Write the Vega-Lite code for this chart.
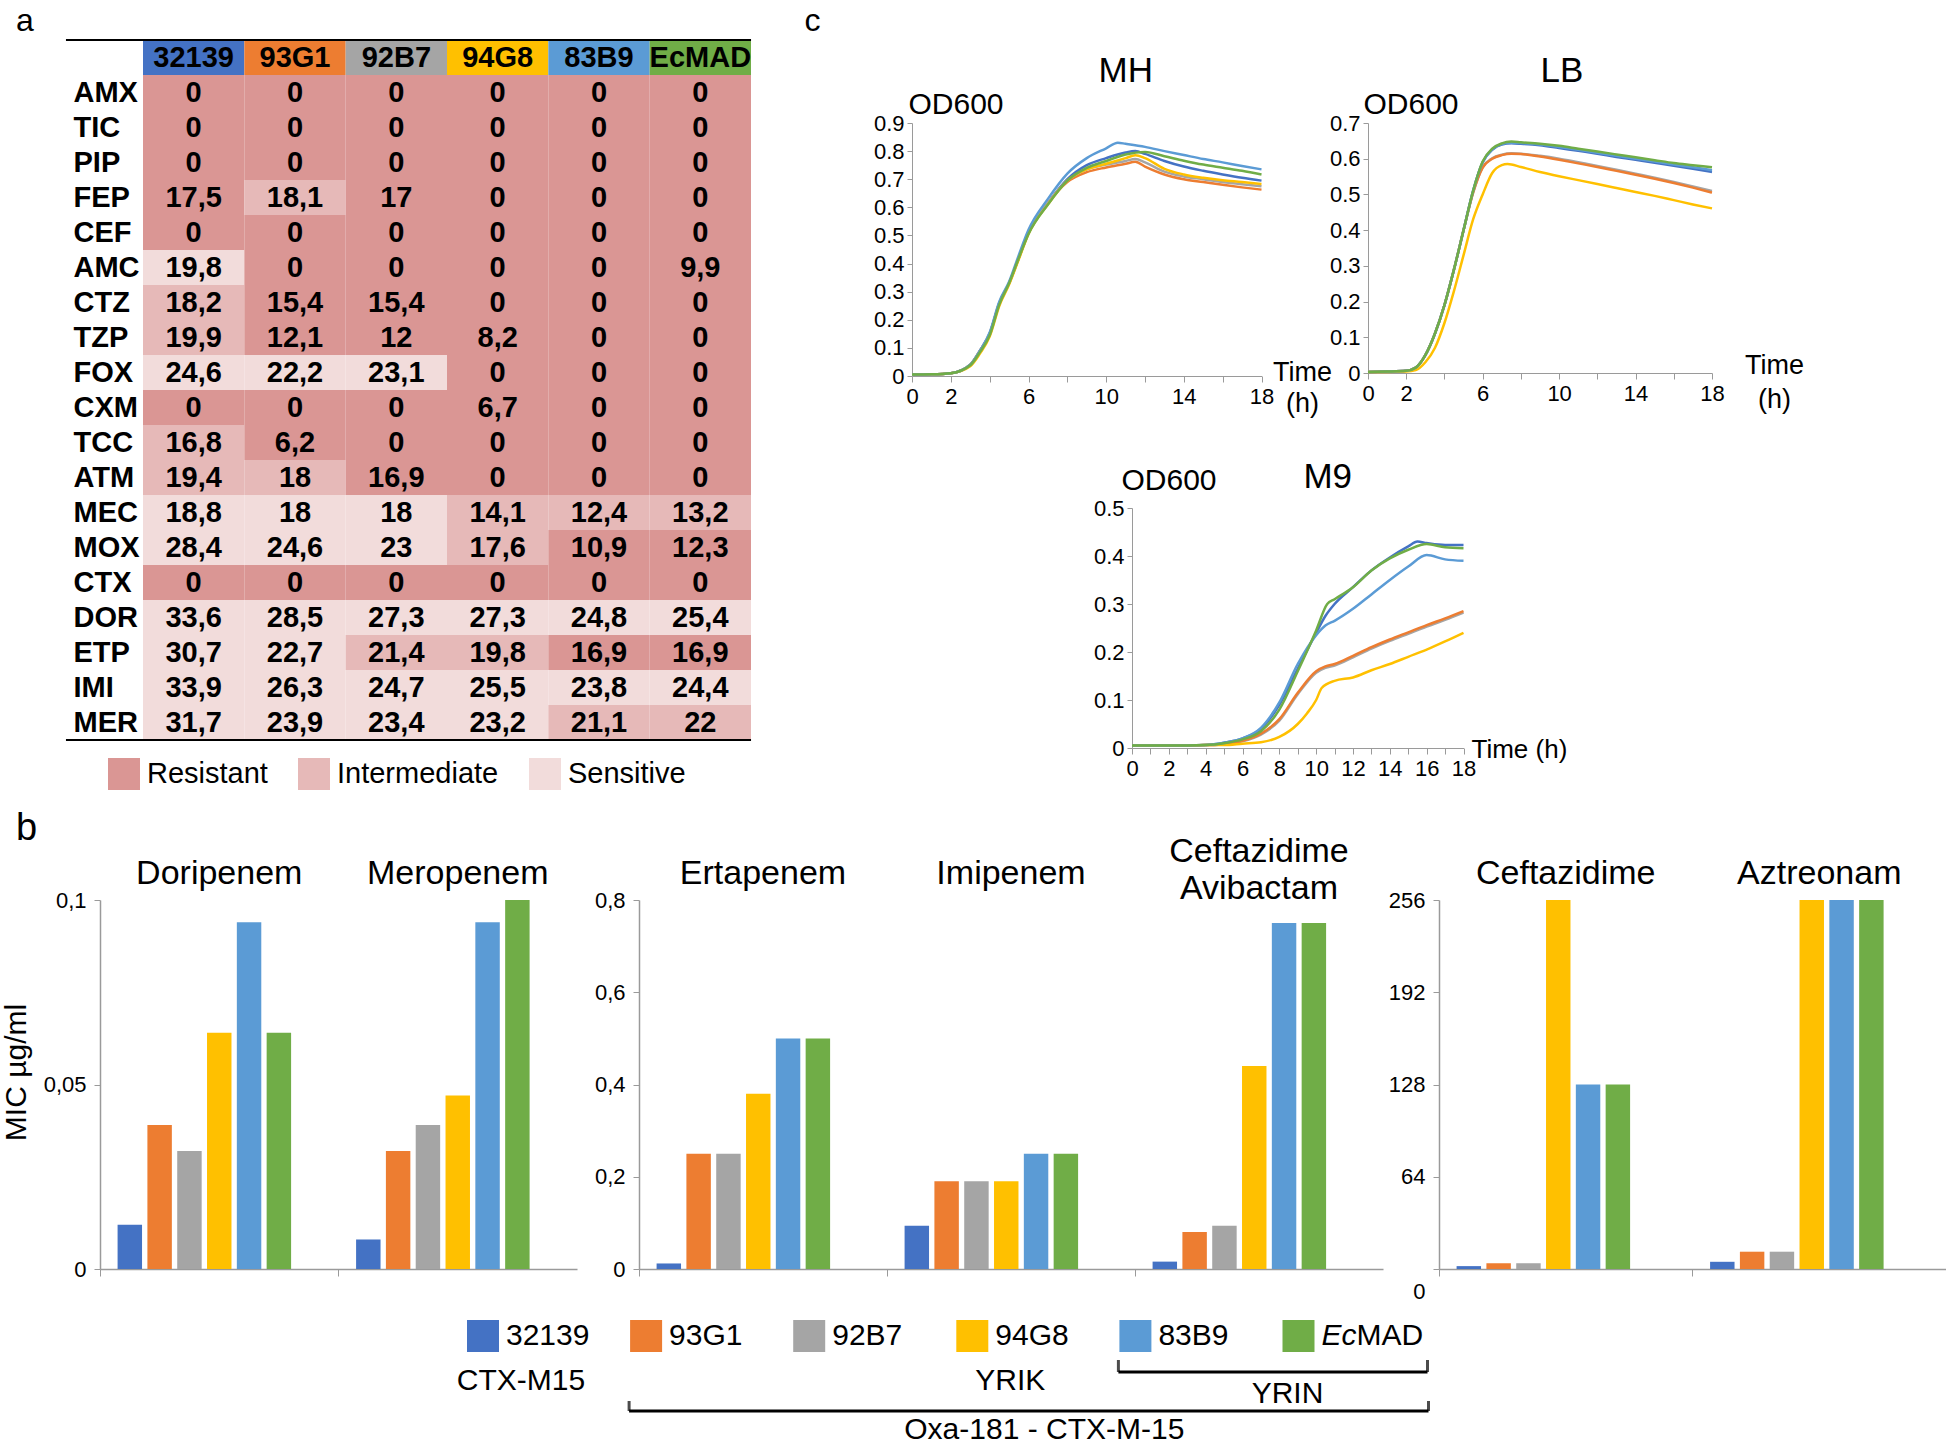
{
"$schema": "https://vega.github.io/schema/vega-lite/v6.json",
"padding": {"left": 0, "top": 0, "right": 0, "bottom": 0},
"background": "white",
"config": {"font": "Liberation Sans", "view": {"stroke": null},
 "axis": {"labelColor": "black", "titleColor": "black", "grid": false, "domainColor": "#9a9a9a", "tickColor": "#9a9a9a", "labelFont": "Liberation Sans", "titleFont": "Liberation Sans", "titleFontWeight": "normal"},
 "title": {"color": "black", "fontWeight": "normal", "font": "Liberation Sans"}},
"datasets": {
 "strainList": [{"s":"32139"},{"s":"93G1"},{"s":"92B7"},{"s":"94G8"},{"s":"83B9"},{"s":"EcMAD"}],
 "header": [{"d":"hdr","s":"32139"},{"d":"hdr","s":"93G1"},{"d":"hdr","s":"92B7"},{"d":"hdr","s":"94G8"},{"d":"hdr","s":"83B9"},{"d":"hdr","s":"EcMAD"}],
 "cells": [
 {"d":"AMX","s":"32139","v":"0","c":"R"},{"d":"AMX","s":"93G1","v":"0","c":"R"},{"d":"AMX","s":"92B7","v":"0","c":"R"},{"d":"AMX","s":"94G8","v":"0","c":"R"},{"d":"AMX","s":"83B9","v":"0","c":"R"},{"d":"AMX","s":"EcMAD","v":"0","c":"R"},
 {"d":"TIC","s":"32139","v":"0","c":"R"},{"d":"TIC","s":"93G1","v":"0","c":"R"},{"d":"TIC","s":"92B7","v":"0","c":"R"},{"d":"TIC","s":"94G8","v":"0","c":"R"},{"d":"TIC","s":"83B9","v":"0","c":"R"},{"d":"TIC","s":"EcMAD","v":"0","c":"R"},
 {"d":"PIP","s":"32139","v":"0","c":"R"},{"d":"PIP","s":"93G1","v":"0","c":"R"},{"d":"PIP","s":"92B7","v":"0","c":"R"},{"d":"PIP","s":"94G8","v":"0","c":"R"},{"d":"PIP","s":"83B9","v":"0","c":"R"},{"d":"PIP","s":"EcMAD","v":"0","c":"R"},
 {"d":"FEP","s":"32139","v":"17,5","c":"R"},{"d":"FEP","s":"93G1","v":"18,1","c":"I"},{"d":"FEP","s":"92B7","v":"17","c":"R"},{"d":"FEP","s":"94G8","v":"0","c":"R"},{"d":"FEP","s":"83B9","v":"0","c":"R"},{"d":"FEP","s":"EcMAD","v":"0","c":"R"},
 {"d":"CEF","s":"32139","v":"0","c":"R"},{"d":"CEF","s":"93G1","v":"0","c":"R"},{"d":"CEF","s":"92B7","v":"0","c":"R"},{"d":"CEF","s":"94G8","v":"0","c":"R"},{"d":"CEF","s":"83B9","v":"0","c":"R"},{"d":"CEF","s":"EcMAD","v":"0","c":"R"},
 {"d":"AMC","s":"32139","v":"19,8","c":"S"},{"d":"AMC","s":"93G1","v":"0","c":"R"},{"d":"AMC","s":"92B7","v":"0","c":"R"},{"d":"AMC","s":"94G8","v":"0","c":"R"},{"d":"AMC","s":"83B9","v":"0","c":"R"},{"d":"AMC","s":"EcMAD","v":"9,9","c":"R"},
 {"d":"CTZ","s":"32139","v":"18,2","c":"I"},{"d":"CTZ","s":"93G1","v":"15,4","c":"R"},{"d":"CTZ","s":"92B7","v":"15,4","c":"R"},{"d":"CTZ","s":"94G8","v":"0","c":"R"},{"d":"CTZ","s":"83B9","v":"0","c":"R"},{"d":"CTZ","s":"EcMAD","v":"0","c":"R"},
 {"d":"TZP","s":"32139","v":"19,9","c":"I"},{"d":"TZP","s":"93G1","v":"12,1","c":"R"},{"d":"TZP","s":"92B7","v":"12","c":"R"},{"d":"TZP","s":"94G8","v":"8,2","c":"R"},{"d":"TZP","s":"83B9","v":"0","c":"R"},{"d":"TZP","s":"EcMAD","v":"0","c":"R"},
 {"d":"FOX","s":"32139","v":"24,6","c":"S"},{"d":"FOX","s":"93G1","v":"22,2","c":"S"},{"d":"FOX","s":"92B7","v":"23,1","c":"S"},{"d":"FOX","s":"94G8","v":"0","c":"R"},{"d":"FOX","s":"83B9","v":"0","c":"R"},{"d":"FOX","s":"EcMAD","v":"0","c":"R"},
 {"d":"CXM","s":"32139","v":"0","c":"R"},{"d":"CXM","s":"93G1","v":"0","c":"R"},{"d":"CXM","s":"92B7","v":"0","c":"R"},{"d":"CXM","s":"94G8","v":"6,7","c":"R"},{"d":"CXM","s":"83B9","v":"0","c":"R"},{"d":"CXM","s":"EcMAD","v":"0","c":"R"},
 {"d":"TCC","s":"32139","v":"16,8","c":"I"},{"d":"TCC","s":"93G1","v":"6,2","c":"R"},{"d":"TCC","s":"92B7","v":"0","c":"R"},{"d":"TCC","s":"94G8","v":"0","c":"R"},{"d":"TCC","s":"83B9","v":"0","c":"R"},{"d":"TCC","s":"EcMAD","v":"0","c":"R"},
 {"d":"ATM","s":"32139","v":"19,4","c":"I"},{"d":"ATM","s":"93G1","v":"18","c":"I"},{"d":"ATM","s":"92B7","v":"16,9","c":"R"},{"d":"ATM","s":"94G8","v":"0","c":"R"},{"d":"ATM","s":"83B9","v":"0","c":"R"},{"d":"ATM","s":"EcMAD","v":"0","c":"R"},
 {"d":"MEC","s":"32139","v":"18,8","c":"S"},{"d":"MEC","s":"93G1","v":"18","c":"S"},{"d":"MEC","s":"92B7","v":"18","c":"S"},{"d":"MEC","s":"94G8","v":"14,1","c":"I"},{"d":"MEC","s":"83B9","v":"12,4","c":"I"},{"d":"MEC","s":"EcMAD","v":"13,2","c":"I"},
 {"d":"MOX","s":"32139","v":"28,4","c":"S"},{"d":"MOX","s":"93G1","v":"24,6","c":"S"},{"d":"MOX","s":"92B7","v":"23","c":"S"},{"d":"MOX","s":"94G8","v":"17,6","c":"I"},{"d":"MOX","s":"83B9","v":"10,9","c":"R"},{"d":"MOX","s":"EcMAD","v":"12,3","c":"R"},
 {"d":"CTX","s":"32139","v":"0","c":"R"},{"d":"CTX","s":"93G1","v":"0","c":"R"},{"d":"CTX","s":"92B7","v":"0","c":"R"},{"d":"CTX","s":"94G8","v":"0","c":"R"},{"d":"CTX","s":"83B9","v":"0","c":"R"},{"d":"CTX","s":"EcMAD","v":"0","c":"R"},
 {"d":"DOR","s":"32139","v":"33,6","c":"S"},{"d":"DOR","s":"93G1","v":"28,5","c":"S"},{"d":"DOR","s":"92B7","v":"27,3","c":"S"},{"d":"DOR","s":"94G8","v":"27,3","c":"S"},{"d":"DOR","s":"83B9","v":"24,8","c":"S"},{"d":"DOR","s":"EcMAD","v":"25,4","c":"S"},
 {"d":"ETP","s":"32139","v":"30,7","c":"S"},{"d":"ETP","s":"93G1","v":"22,7","c":"S"},{"d":"ETP","s":"92B7","v":"21,4","c":"I"},{"d":"ETP","s":"94G8","v":"19,8","c":"I"},{"d":"ETP","s":"83B9","v":"16,9","c":"R"},{"d":"ETP","s":"EcMAD","v":"16,9","c":"R"},
 {"d":"IMI","s":"32139","v":"33,9","c":"S"},{"d":"IMI","s":"93G1","v":"26,3","c":"S"},{"d":"IMI","s":"92B7","v":"24,7","c":"S"},{"d":"IMI","s":"94G8","v":"25,5","c":"S"},{"d":"IMI","s":"83B9","v":"23,8","c":"S"},{"d":"IMI","s":"EcMAD","v":"24,4","c":"S"},
 {"d":"MER","s":"32139","v":"31,7","c":"S"},{"d":"MER","s":"93G1","v":"23,9","c":"S"},{"d":"MER","s":"92B7","v":"23,4","c":"S"},{"d":"MER","s":"94G8","v":"23,2","c":"S"},{"d":"MER","s":"83B9","v":"21,1","c":"I"},{"d":"MER","s":"EcMAD","v":"22","c":"I"}
 ],
 "mic": [
 {"g":1,"drug":"Doripenem","s":"32139","mic":0.012},{"g":1,"drug":"Doripenem","s":"93G1","mic":0.039},{"g":1,"drug":"Doripenem","s":"92B7","mic":0.032},{"g":1,"drug":"Doripenem","s":"94G8","mic":0.064},{"g":1,"drug":"Doripenem","s":"83B9","mic":0.094},{"g":1,"drug":"Doripenem","s":"EcMAD","mic":0.064},
 {"g":1,"drug":"Meropenem","s":"32139","mic":0.008},{"g":1,"drug":"Meropenem","s":"93G1","mic":0.032},{"g":1,"drug":"Meropenem","s":"92B7","mic":0.039},{"g":1,"drug":"Meropenem","s":"94G8","mic":0.047},{"g":1,"drug":"Meropenem","s":"83B9","mic":0.094},{"g":1,"drug":"Meropenem","s":"EcMAD","mic":0.1},
 {"g":2,"drug":"Ertapenem","s":"32139","mic":0.012},{"g":2,"drug":"Ertapenem","s":"93G1","mic":0.25},{"g":2,"drug":"Ertapenem","s":"92B7","mic":0.25},{"g":2,"drug":"Ertapenem","s":"94G8","mic":0.38},{"g":2,"drug":"Ertapenem","s":"83B9","mic":0.5},{"g":2,"drug":"Ertapenem","s":"EcMAD","mic":0.5},
 {"g":2,"drug":"Imipenem","s":"32139","mic":0.094},{"g":2,"drug":"Imipenem","s":"93G1","mic":0.19},{"g":2,"drug":"Imipenem","s":"92B7","mic":0.19},{"g":2,"drug":"Imipenem","s":"94G8","mic":0.19},{"g":2,"drug":"Imipenem","s":"83B9","mic":0.25},{"g":2,"drug":"Imipenem","s":"EcMAD","mic":0.25},
 {"g":2,"drug":"Ceftazidime Avibactam","s":"32139","mic":0.016},{"g":2,"drug":"Ceftazidime Avibactam","s":"93G1","mic":0.08},{"g":2,"drug":"Ceftazidime Avibactam","s":"92B7","mic":0.094},{"g":2,"drug":"Ceftazidime Avibactam","s":"94G8","mic":0.44},{"g":2,"drug":"Ceftazidime Avibactam","s":"83B9","mic":0.75},{"g":2,"drug":"Ceftazidime Avibactam","s":"EcMAD","mic":0.75},
 {"g":3,"drug":"Ceftazidime","s":"32139","mic":2},{"g":3,"drug":"Ceftazidime","s":"93G1","mic":4},{"g":3,"drug":"Ceftazidime","s":"92B7","mic":4},{"g":3,"drug":"Ceftazidime","s":"94G8","mic":256},{"g":3,"drug":"Ceftazidime","s":"83B9","mic":128},{"g":3,"drug":"Ceftazidime","s":"EcMAD","mic":128},
 {"g":3,"drug":"Aztreonam","s":"32139","mic":5},{"g":3,"drug":"Aztreonam","s":"93G1","mic":12},{"g":3,"drug":"Aztreonam","s":"92B7","mic":12},{"g":3,"drug":"Aztreonam","s":"94G8","mic":256},{"g":3,"drug":"Aztreonam","s":"83B9","mic":256},{"g":3,"drug":"Aztreonam","s":"EcMAD","mic":256}
 ],
 "growth": [
 {"m":"MH","s":"32139","t":0,"od":0.005},{"m":"MH","s":"32139","t":1,"od":0.006},{"m":"MH","s":"32139","t":2,"od":0.01},{"m":"MH","s":"32139","t":3,"od":0.04},{"m":"MH","s":"32139","t":3.5,"od":0.09},{"m":"MH","s":"32139","t":4,"od":0.15},{"m":"MH","s":"32139","t":4.5,"od":0.26},{"m":"MH","s":"32139","t":5,"od":0.33},{"m":"MH","s":"32139","t":5.5,"od":0.42},{"m":"MH","s":"32139","t":6,"od":0.51},{"m":"MH","s":"32139","t":7,"od":0.615},{"m":"MH","s":"32139","t":8,"od":0.7},{"m":"MH","s":"32139","t":9,"od":0.75},{"m":"MH","s":"32139","t":10,"od":0.775},{"m":"MH","s":"32139","t":11,"od":0.795},{"m":"MH","s":"32139","t":11.5,"od":0.8},{"m":"MH","s":"32139","t":12,"od":0.79},{"m":"MH","s":"32139","t":13,"od":0.765},{"m":"MH","s":"32139","t":14,"od":0.745},{"m":"MH","s":"32139","t":15,"od":0.73},{"m":"MH","s":"32139","t":16,"od":0.717},{"m":"MH","s":"32139","t":17,"od":0.705},{"m":"MH","s":"32139","t":18,"od":0.695},
 {"m":"MH","s":"93G1","t":0,"od":0.005},{"m":"MH","s":"93G1","t":1,"od":0.006},{"m":"MH","s":"93G1","t":2,"od":0.01},{"m":"MH","s":"93G1","t":3,"od":0.04},{"m":"MH","s":"93G1","t":3.5,"od":0.09},{"m":"MH","s":"93G1","t":4,"od":0.15},{"m":"MH","s":"93G1","t":4.5,"od":0.26},{"m":"MH","s":"93G1","t":5,"od":0.33},{"m":"MH","s":"93G1","t":5.5,"od":0.42},{"m":"MH","s":"93G1","t":6,"od":0.51},{"m":"MH","s":"93G1","t":7,"od":0.615},{"m":"MH","s":"93G1","t":8,"od":0.69},{"m":"MH","s":"93G1","t":9,"od":0.725},{"m":"MH","s":"93G1","t":10,"od":0.742},{"m":"MH","s":"93G1","t":11,"od":0.755},{"m":"MH","s":"93G1","t":11.5,"od":0.762},{"m":"MH","s":"93G1","t":12,"od":0.745},{"m":"MH","s":"93G1","t":13,"od":0.717},{"m":"MH","s":"93G1","t":14,"od":0.7},{"m":"MH","s":"93G1","t":15,"od":0.69},{"m":"MH","s":"93G1","t":16,"od":0.68},{"m":"MH","s":"93G1","t":17,"od":0.671},{"m":"MH","s":"93G1","t":18,"od":0.663},
 {"m":"MH","s":"92B7","t":0,"od":0.005},{"m":"MH","s":"92B7","t":1,"od":0.006},{"m":"MH","s":"92B7","t":2,"od":0.01},{"m":"MH","s":"92B7","t":3,"od":0.04},{"m":"MH","s":"92B7","t":3.5,"od":0.09},{"m":"MH","s":"92B7","t":4,"od":0.15},{"m":"MH","s":"92B7","t":4.5,"od":0.26},{"m":"MH","s":"92B7","t":5,"od":0.33},{"m":"MH","s":"92B7","t":5.5,"od":0.42},{"m":"MH","s":"92B7","t":6,"od":0.51},{"m":"MH","s":"92B7","t":7,"od":0.615},{"m":"MH","s":"92B7","t":8,"od":0.695},{"m":"MH","s":"92B7","t":9,"od":0.735},{"m":"MH","s":"92B7","t":10,"od":0.752},{"m":"MH","s":"92B7","t":11,"od":0.765},{"m":"MH","s":"92B7","t":11.5,"od":0.772},{"m":"MH","s":"92B7","t":12,"od":0.76},{"m":"MH","s":"92B7","t":13,"od":0.727},{"m":"MH","s":"92B7","t":14,"od":0.71},{"m":"MH","s":"92B7","t":15,"od":0.7},{"m":"MH","s":"92B7","t":16,"od":0.69},{"m":"MH","s":"92B7","t":17,"od":0.682},{"m":"MH","s":"92B7","t":18,"od":0.675},
 {"m":"MH","s":"94G8","t":0,"od":0.005},{"m":"MH","s":"94G8","t":1,"od":0.006},{"m":"MH","s":"94G8","t":2,"od":0.01},{"m":"MH","s":"94G8","t":3,"od":0.035},{"m":"MH","s":"94G8","t":3.5,"od":0.08},{"m":"MH","s":"94G8","t":4,"od":0.14},{"m":"MH","s":"94G8","t":4.5,"od":0.25},{"m":"MH","s":"94G8","t":5,"od":0.325},{"m":"MH","s":"94G8","t":5.5,"od":0.415},{"m":"MH","s":"94G8","t":6,"od":0.505},{"m":"MH","s":"94G8","t":7,"od":0.61},{"m":"MH","s":"94G8","t":8,"od":0.695},{"m":"MH","s":"94G8","t":9,"od":0.735},{"m":"MH","s":"94G8","t":10,"od":0.755},{"m":"MH","s":"94G8","t":11,"od":0.775},{"m":"MH","s":"94G8","t":11.5,"od":0.785},{"m":"MH","s":"94G8","t":12,"od":0.775},{"m":"MH","s":"94G8","t":13,"od":0.737},{"m":"MH","s":"94G8","t":14,"od":0.717},{"m":"MH","s":"94G8","t":15,"od":0.705},{"m":"MH","s":"94G8","t":16,"od":0.696},{"m":"MH","s":"94G8","t":17,"od":0.69},{"m":"MH","s":"94G8","t":18,"od":0.683},
 {"m":"MH","s":"83B9","t":0,"od":0.005},{"m":"MH","s":"83B9","t":1,"od":0.006},{"m":"MH","s":"83B9","t":2,"od":0.01},{"m":"MH","s":"83B9","t":3,"od":0.04},{"m":"MH","s":"83B9","t":3.5,"od":0.09},{"m":"MH","s":"83B9","t":4,"od":0.155},{"m":"MH","s":"83B9","t":4.5,"od":0.265},{"m":"MH","s":"83B9","t":5,"od":0.335},{"m":"MH","s":"83B9","t":5.5,"od":0.43},{"m":"MH","s":"83B9","t":6,"od":0.52},{"m":"MH","s":"83B9","t":7,"od":0.63},{"m":"MH","s":"83B9","t":8,"od":0.72},{"m":"MH","s":"83B9","t":9,"od":0.775},{"m":"MH","s":"83B9","t":10,"od":0.81},{"m":"MH","s":"83B9","t":10.6,"od":0.83},{"m":"MH","s":"83B9","t":11,"od":0.826},{"m":"MH","s":"83B9","t":12,"od":0.815},{"m":"MH","s":"83B9","t":13,"od":0.8},{"m":"MH","s":"83B9","t":14,"od":0.786},{"m":"MH","s":"83B9","t":15,"od":0.772},{"m":"MH","s":"83B9","t":16,"od":0.76},{"m":"MH","s":"83B9","t":17,"od":0.747},{"m":"MH","s":"83B9","t":18,"od":0.735},
 {"m":"MH","s":"EcMAD","t":0,"od":0.005},{"m":"MH","s":"EcMAD","t":1,"od":0.006},{"m":"MH","s":"EcMAD","t":2,"od":0.01},{"m":"MH","s":"EcMAD","t":3,"od":0.038},{"m":"MH","s":"EcMAD","t":3.5,"od":0.085},{"m":"MH","s":"EcMAD","t":4,"od":0.145},{"m":"MH","s":"EcMAD","t":4.5,"od":0.255},{"m":"MH","s":"EcMAD","t":5,"od":0.33},{"m":"MH","s":"EcMAD","t":5.5,"od":0.42},{"m":"MH","s":"EcMAD","t":6,"od":0.505},{"m":"MH","s":"EcMAD","t":7,"od":0.61},{"m":"MH","s":"EcMAD","t":8,"od":0.695},{"m":"MH","s":"EcMAD","t":9,"od":0.74},{"m":"MH","s":"EcMAD","t":10,"od":0.765},{"m":"MH","s":"EcMAD","t":11,"od":0.788},{"m":"MH","s":"EcMAD","t":12,"od":0.797},{"m":"MH","s":"EcMAD","t":13,"od":0.782},{"m":"MH","s":"EcMAD","t":14,"od":0.766},{"m":"MH","s":"EcMAD","t":15,"od":0.752},{"m":"MH","s":"EcMAD","t":16,"od":0.741},{"m":"MH","s":"EcMAD","t":17,"od":0.73},{"m":"MH","s":"EcMAD","t":18,"od":0.717},
 {"m":"LB","s":"32139","t":0,"od":0.003},{"m":"LB","s":"32139","t":1,"od":0.004},{"m":"LB","s":"32139","t":2,"od":0.006},{"m":"LB","s":"32139","t":2.5,"od":0.015},{"m":"LB","s":"32139","t":3,"od":0.05},{"m":"LB","s":"32139","t":3.5,"od":0.11},{"m":"LB","s":"32139","t":4,"od":0.19},{"m":"LB","s":"32139","t":4.5,"od":0.29},{"m":"LB","s":"32139","t":5,"od":0.4},{"m":"LB","s":"32139","t":5.5,"od":0.51},{"m":"LB","s":"32139","t":6,"od":0.59},{"m":"LB","s":"32139","t":6.5,"od":0.625},{"m":"LB","s":"32139","t":7,"od":0.64},{"m":"LB","s":"32139","t":7.5,"od":0.643},{"m":"LB","s":"32139","t":8,"od":0.642},{"m":"LB","s":"32139","t":9,"od":0.638},{"m":"LB","s":"32139","t":10,"od":0.63},{"m":"LB","s":"32139","t":11,"od":0.622},{"m":"LB","s":"32139","t":12,"od":0.614},{"m":"LB","s":"32139","t":13,"od":0.605},{"m":"LB","s":"32139","t":14,"od":0.597},{"m":"LB","s":"32139","t":15,"od":0.589},{"m":"LB","s":"32139","t":16,"od":0.58},{"m":"LB","s":"32139","t":17,"od":0.572},{"m":"LB","s":"32139","t":18,"od":0.563},
 {"m":"LB","s":"92B7","t":0,"od":0.003},{"m":"LB","s":"92B7","t":1,"od":0.004},{"m":"LB","s":"92B7","t":2,"od":0.006},{"m":"LB","s":"92B7","t":2.5,"od":0.015},{"m":"LB","s":"92B7","t":3,"od":0.05},{"m":"LB","s":"92B7","t":3.5,"od":0.11},{"m":"LB","s":"92B7","t":4,"od":0.19},{"m":"LB","s":"92B7","t":4.5,"od":0.29},{"m":"LB","s":"92B7","t":5,"od":0.4},{"m":"LB","s":"92B7","t":5.5,"od":0.505},{"m":"LB","s":"92B7","t":6,"od":0.576},{"m":"LB","s":"92B7","t":6.5,"od":0.601},{"m":"LB","s":"92B7","t":7,"od":0.611},{"m":"LB","s":"92B7","t":7.5,"od":0.615},{"m":"LB","s":"92B7","t":8,"od":0.614},{"m":"LB","s":"92B7","t":9,"od":0.608},{"m":"LB","s":"92B7","t":10,"od":0.6},{"m":"LB","s":"92B7","t":11,"od":0.59},{"m":"LB","s":"92B7","t":12,"od":0.58},{"m":"LB","s":"92B7","t":13,"od":0.569},{"m":"LB","s":"92B7","t":14,"od":0.558},{"m":"LB","s":"92B7","t":15,"od":0.547},{"m":"LB","s":"92B7","t":16,"od":0.535},{"m":"LB","s":"92B7","t":17,"od":0.522},{"m":"LB","s":"92B7","t":18,"od":0.51},
 {"m":"LB","s":"93G1","t":0,"od":0.003},{"m":"LB","s":"93G1","t":1,"od":0.004},{"m":"LB","s":"93G1","t":2,"od":0.006},{"m":"LB","s":"93G1","t":2.5,"od":0.015},{"m":"LB","s":"93G1","t":3,"od":0.05},{"m":"LB","s":"93G1","t":3.5,"od":0.11},{"m":"LB","s":"93G1","t":4,"od":0.19},{"m":"LB","s":"93G1","t":4.5,"od":0.29},{"m":"LB","s":"93G1","t":5,"od":0.4},{"m":"LB","s":"93G1","t":5.5,"od":0.505},{"m":"LB","s":"93G1","t":6,"od":0.575},{"m":"LB","s":"93G1","t":6.5,"od":0.6},{"m":"LB","s":"93G1","t":7,"od":0.61},{"m":"LB","s":"93G1","t":7.5,"od":0.614},{"m":"LB","s":"93G1","t":8,"od":0.613},{"m":"LB","s":"93G1","t":9,"od":0.606},{"m":"LB","s":"93G1","t":10,"od":0.597},{"m":"LB","s":"93G1","t":11,"od":0.587},{"m":"LB","s":"93G1","t":12,"od":0.577},{"m":"LB","s":"93G1","t":13,"od":0.566},{"m":"LB","s":"93G1","t":14,"od":0.555},{"m":"LB","s":"93G1","t":15,"od":0.544},{"m":"LB","s":"93G1","t":16,"od":0.532},{"m":"LB","s":"93G1","t":17,"od":0.519},{"m":"LB","s":"93G1","t":18,"od":0.505},
 {"m":"LB","s":"94G8","t":0,"od":0.003},{"m":"LB","s":"94G8","t":1,"od":0.003},{"m":"LB","s":"94G8","t":2,"od":0.004},{"m":"LB","s":"94G8","t":2.5,"od":0.008},{"m":"LB","s":"94G8","t":3,"od":0.03},{"m":"LB","s":"94G8","t":3.5,"od":0.07},{"m":"LB","s":"94G8","t":4,"od":0.14},{"m":"LB","s":"94G8","t":4.5,"od":0.23},{"m":"LB","s":"94G8","t":5,"od":0.33},{"m":"LB","s":"94G8","t":5.5,"od":0.43},{"m":"LB","s":"94G8","t":6,"od":0.5},{"m":"LB","s":"94G8","t":6.5,"od":0.56},{"m":"LB","s":"94G8","t":7,"od":0.582},{"m":"LB","s":"94G8","t":7.3,"od":0.585},{"m":"LB","s":"94G8","t":8,"od":0.577},{"m":"LB","s":"94G8","t":9,"od":0.563},{"m":"LB","s":"94G8","t":10,"od":0.551},{"m":"LB","s":"94G8","t":11,"od":0.54},{"m":"LB","s":"94G8","t":12,"od":0.529},{"m":"LB","s":"94G8","t":13,"od":0.518},{"m":"LB","s":"94G8","t":14,"od":0.507},{"m":"LB","s":"94G8","t":15,"od":0.496},{"m":"LB","s":"94G8","t":16,"od":0.484},{"m":"LB","s":"94G8","t":17,"od":0.472},{"m":"LB","s":"94G8","t":18,"od":0.461},
 {"m":"LB","s":"83B9","t":0,"od":0.003},{"m":"LB","s":"83B9","t":1,"od":0.004},{"m":"LB","s":"83B9","t":2,"od":0.006},{"m":"LB","s":"83B9","t":2.5,"od":0.015},{"m":"LB","s":"83B9","t":3,"od":0.05},{"m":"LB","s":"83B9","t":3.5,"od":0.11},{"m":"LB","s":"83B9","t":4,"od":0.19},{"m":"LB","s":"83B9","t":4.5,"od":0.29},{"m":"LB","s":"83B9","t":5,"od":0.4},{"m":"LB","s":"83B9","t":5.5,"od":0.51},{"m":"LB","s":"83B9","t":6,"od":0.59},{"m":"LB","s":"83B9","t":6.5,"od":0.626},{"m":"LB","s":"83B9","t":7,"od":0.641},{"m":"LB","s":"83B9","t":7.5,"od":0.645},{"m":"LB","s":"83B9","t":8,"od":0.644},{"m":"LB","s":"83B9","t":9,"od":0.64},{"m":"LB","s":"83B9","t":10,"od":0.633},{"m":"LB","s":"83B9","t":11,"od":0.625},{"m":"LB","s":"83B9","t":12,"od":0.617},{"m":"LB","s":"83B9","t":13,"od":0.608},{"m":"LB","s":"83B9","t":14,"od":0.6},{"m":"LB","s":"83B9","t":15,"od":0.592},{"m":"LB","s":"83B9","t":16,"od":0.584},{"m":"LB","s":"83B9","t":17,"od":0.576},{"m":"LB","s":"83B9","t":18,"od":0.568},
 {"m":"LB","s":"EcMAD","t":0,"od":0.003},{"m":"LB","s":"EcMAD","t":1,"od":0.004},{"m":"LB","s":"EcMAD","t":2,"od":0.006},{"m":"LB","s":"EcMAD","t":2.5,"od":0.015},{"m":"LB","s":"EcMAD","t":3,"od":0.05},{"m":"LB","s":"EcMAD","t":3.5,"od":0.11},{"m":"LB","s":"EcMAD","t":4,"od":0.19},{"m":"LB","s":"EcMAD","t":4.5,"od":0.29},{"m":"LB","s":"EcMAD","t":5,"od":0.4},{"m":"LB","s":"EcMAD","t":5.5,"od":0.51},{"m":"LB","s":"EcMAD","t":6,"od":0.592},{"m":"LB","s":"EcMAD","t":6.5,"od":0.628},{"m":"LB","s":"EcMAD","t":7,"od":0.643},{"m":"LB","s":"EcMAD","t":7.5,"od":0.648},{"m":"LB","s":"EcMAD","t":8,"od":0.646},{"m":"LB","s":"EcMAD","t":9,"od":0.642},{"m":"LB","s":"EcMAD","t":10,"od":0.636},{"m":"LB","s":"EcMAD","t":11,"od":0.628},{"m":"LB","s":"EcMAD","t":12,"od":0.62},{"m":"LB","s":"EcMAD","t":13,"od":0.612},{"m":"LB","s":"EcMAD","t":14,"od":0.604},{"m":"LB","s":"EcMAD","t":15,"od":0.596},{"m":"LB","s":"EcMAD","t":16,"od":0.588},{"m":"LB","s":"EcMAD","t":17,"od":0.582},{"m":"LB","s":"EcMAD","t":18,"od":0.576},
 {"m":"M9","s":"32139","t":0,"od":0.005},{"m":"M9","s":"32139","t":2,"od":0.005},{"m":"M9","s":"32139","t":3,"od":0.005},{"m":"M9","s":"32139","t":4,"od":0.006},{"m":"M9","s":"32139","t":5,"od":0.011},{"m":"M9","s":"32139","t":6,"od":0.02},{"m":"M9","s":"32139","t":7,"od":0.04},{"m":"M9","s":"32139","t":8,"od":0.09},{"m":"M9","s":"32139","t":9,"od":0.165},{"m":"M9","s":"32139","t":10,"od":0.24},{"m":"M9","s":"32139","t":10.5,"od":0.275},{"m":"M9","s":"32139","t":11,"od":0.3},{"m":"M9","s":"32139","t":12,"od":0.335},{"m":"M9","s":"32139","t":13,"od":0.37},{"m":"M9","s":"32139","t":14,"od":0.397},{"m":"M9","s":"32139","t":15,"od":0.42},{"m":"M9","s":"32139","t":15.5,"od":0.43},{"m":"M9","s":"32139","t":16,"od":0.427},{"m":"M9","s":"32139","t":17,"od":0.423},{"m":"M9","s":"32139","t":18,"od":0.423},
 {"m":"M9","s":"92B7","t":0,"od":0.005},{"m":"M9","s":"92B7","t":2,"od":0.005},{"m":"M9","s":"92B7","t":3,"od":0.005},{"m":"M9","s":"92B7","t":4,"od":0.006},{"m":"M9","s":"92B7","t":5,"od":0.008},{"m":"M9","s":"92B7","t":6,"od":0.014},{"m":"M9","s":"92B7","t":7,"od":0.028},{"m":"M9","s":"92B7","t":8,"od":0.057},{"m":"M9","s":"92B7","t":9,"od":0.112},{"m":"M9","s":"92B7","t":10,"od":0.157},{"m":"M9","s":"92B7","t":10.5,"od":0.167},{"m":"M9","s":"92B7","t":11,"od":0.172},{"m":"M9","s":"92B7","t":12,"od":0.189},{"m":"M9","s":"92B7","t":13,"od":0.207},{"m":"M9","s":"92B7","t":14,"od":0.223},{"m":"M9","s":"92B7","t":15,"od":0.238},{"m":"M9","s":"92B7","t":16,"od":0.253},{"m":"M9","s":"92B7","t":17,"od":0.267},{"m":"M9","s":"92B7","t":18,"od":0.282},
 {"m":"M9","s":"93G1","t":0,"od":0.005},{"m":"M9","s":"93G1","t":2,"od":0.005},{"m":"M9","s":"93G1","t":3,"od":0.005},{"m":"M9","s":"93G1","t":4,"od":0.006},{"m":"M9","s":"93G1","t":5,"od":0.008},{"m":"M9","s":"93G1","t":6,"od":0.015},{"m":"M9","s":"93G1","t":7,"od":0.03},{"m":"M9","s":"93G1","t":8,"od":0.06},{"m":"M9","s":"93G1","t":9,"od":0.115},{"m":"M9","s":"93G1","t":10,"od":0.16},{"m":"M9","s":"93G1","t":10.5,"od":0.17},{"m":"M9","s":"93G1","t":11,"od":0.175},{"m":"M9","s":"93G1","t":12,"od":0.192},{"m":"M9","s":"93G1","t":13,"od":0.21},{"m":"M9","s":"93G1","t":14,"od":0.226},{"m":"M9","s":"93G1","t":15,"od":0.241},{"m":"M9","s":"93G1","t":16,"od":0.256},{"m":"M9","s":"93G1","t":17,"od":0.27},{"m":"M9","s":"93G1","t":18,"od":0.285},
 {"m":"M9","s":"94G8","t":0,"od":0.005},{"m":"M9","s":"94G8","t":2,"od":0.005},{"m":"M9","s":"94G8","t":3,"od":0.005},{"m":"M9","s":"94G8","t":4,"od":0.006},{"m":"M9","s":"94G8","t":5,"od":0.006},{"m":"M9","s":"94G8","t":6,"od":0.009},{"m":"M9","s":"94G8","t":7,"od":0.012},{"m":"M9","s":"94G8","t":8,"od":0.023},{"m":"M9","s":"94G8","t":9,"od":0.05},{"m":"M9","s":"94G8","t":9.5,"od":0.072},{"m":"M9","s":"94G8","t":10,"od":0.1},{"m":"M9","s":"94G8","t":10.3,"od":0.125},{"m":"M9","s":"94G8","t":11,"od":0.14},{"m":"M9","s":"94G8","t":12,"od":0.147},{"m":"M9","s":"94G8","t":13,"od":0.162},{"m":"M9","s":"94G8","t":14,"od":0.175},{"m":"M9","s":"94G8","t":15,"od":0.19},{"m":"M9","s":"94G8","t":16,"od":0.205},{"m":"M9","s":"94G8","t":17,"od":0.222},{"m":"M9","s":"94G8","t":18,"od":0.24},
 {"m":"M9","s":"83B9","t":0,"od":0.005},{"m":"M9","s":"83B9","t":2,"od":0.005},{"m":"M9","s":"83B9","t":3,"od":0.005},{"m":"M9","s":"83B9","t":4,"od":0.006},{"m":"M9","s":"83B9","t":5,"od":0.011},{"m":"M9","s":"83B9","t":6,"od":0.02},{"m":"M9","s":"83B9","t":7,"od":0.042},{"m":"M9","s":"83B9","t":8,"od":0.095},{"m":"M9","s":"83B9","t":9,"od":0.175},{"m":"M9","s":"83B9","t":10,"od":0.235},{"m":"M9","s":"83B9","t":10.5,"od":0.255},{"m":"M9","s":"83B9","t":11,"od":0.265},{"m":"M9","s":"83B9","t":12,"od":0.29},{"m":"M9","s":"83B9","t":13,"od":0.32},{"m":"M9","s":"83B9","t":14,"od":0.35},{"m":"M9","s":"83B9","t":15,"od":0.378},{"m":"M9","s":"83B9","t":16,"od":0.402},{"m":"M9","s":"83B9","t":17,"od":0.393},{"m":"M9","s":"83B9","t":18,"od":0.39},
 {"m":"M9","s":"EcMAD","t":0,"od":0.005},{"m":"M9","s":"EcMAD","t":2,"od":0.005},{"m":"M9","s":"EcMAD","t":3,"od":0.005},{"m":"M9","s":"EcMAD","t":4,"od":0.006},{"m":"M9","s":"EcMAD","t":5,"od":0.01},{"m":"M9","s":"EcMAD","t":6,"od":0.018},{"m":"M9","s":"EcMAD","t":7,"od":0.035},{"m":"M9","s":"EcMAD","t":8,"od":0.08},{"m":"M9","s":"EcMAD","t":9,"od":0.16},{"m":"M9","s":"EcMAD","t":10,"od":0.245},{"m":"M9","s":"EcMAD","t":10.6,"od":0.3},{"m":"M9","s":"EcMAD","t":11,"od":0.31},{"m":"M9","s":"EcMAD","t":12,"od":0.335},{"m":"M9","s":"EcMAD","t":13,"od":0.37},{"m":"M9","s":"EcMAD","t":14,"od":0.395},{"m":"M9","s":"EcMAD","t":15,"od":0.413},{"m":"M9","s":"EcMAD","t":16,"od":0.425},{"m":"M9","s":"EcMAD","t":17,"od":0.418},{"m":"M9","s":"EcMAD","t":18,"od":0.416}
 ]
},
"bounds": "flush",
"spacing": 0,
"vconcat": [
 {"width": 1, "height": 40, "data": {"values": []}, "mark": "point", "encoding": {}},
 {"bounds": "flush", "spacing": 0, "hconcat": [
   {"width": 143, "height": 1, "data": {"values": []}, "mark": "point", "encoding": {}},
   {"width": 608, "height": 700,
    "title": {"text": "a", "anchor": "start", "frame": "group", "dx": -127, "offset": -24, "fontSize": 32, "baseline": "alphabetic"},
    "layer": [
     {"data": {"name": "cells"}, "mark": {"type": "rect"},
      "encoding": {
       "x": {"field": "s", "type": "nominal", "scale": {"domain": ["32139","93G1","92B7","94G8","83B9","EcMAD"], "paddingInner": 0, "paddingOuter": 0}, "axis": null},
       "y": {"field": "d", "type": "nominal", "scale": {"domain": ["hdr","AMX","TIC","PIP","FEP","CEF","AMC","CTZ","TZP","FOX","CXM","TCC","ATM","MEC","MOX","CTX","DOR","ETP","IMI","MER"], "paddingInner": 0, "paddingOuter": 0},
             "axis": {"orient": "left", "domain": false, "ticks": false, "tickSize": 0, "labelPadding": 70, "labelAlign": "left", "labelBaseline": "middle", "labelFontWeight": "bold", "labelFontSize": 29, "labelExpr": "datum.value == 'hdr' ? '' : datum.value", "title": null}},
       "fill": {"field": "c", "type": "nominal", "scale": {"domain": ["R","I","S"], "range": ["#DA9694","#E6B9B8","#F2DCDB"]},
             "legend": {"orient": "none", "legendX": 108, "legendY": 758, "direction": "horizontal", "title": null, "symbolType": "square", "symbolSize": 1024, "symbolStrokeWidth": 0, "symbolOpacity": 1, "labelFontSize": 29, "labelColor": "black", "labelOffset": 7, "columnPadding": 30, "padding": 0, "labelLimit": 0,
                        "labelExpr": "datum.value == 'R' ? 'Resistant' : datum.value == 'I' ? 'Intermediate' : 'Sensitive'"}}
      }},
     {"data": {"name": "header"}, "mark": {"type": "rect"},
      "encoding": {
       "x": {"field": "s", "type": "nominal"},
       "y": {"field": "d", "type": "nominal"},
       "color": {"field": "s", "type": "nominal", "scale": {"domain": ["32139","93G1","92B7","94G8","83B9","EcMAD"], "range": ["#4472C4","#ED7D31","#A5A5A5","#FFC000","#5B9BD5","#70AD47"]}, "legend": null}
      }},
     {"data": {"name": "cells"}, "mark": {"type": "text", "fontWeight": "bold", "fontSize": 29, "color": "black", "baseline": "middle"},
      "encoding": {"x": {"field": "s", "type": "nominal"}, "y": {"field": "d", "type": "nominal"}, "text": {"field": "v"}}},
     {"data": {"name": "header"}, "mark": {"type": "text", "fontWeight": "bold", "fontSize": 29, "color": "black", "baseline": "middle"},
      "encoding": {"x": {"field": "s", "type": "nominal"}, "y": {"field": "d", "type": "nominal"}, "text": {"field": "s"}}},
     {"data": {"values": [{"d": "hdr", "a": "32139", "b": "EcMAD"}]}, "mark": {"type": "rule", "color": "black", "strokeWidth": 2, "xOffset": -127.7, "x2Offset": 50.7},
      "encoding": {"x": {"field": "a", "type": "nominal"}, "x2": {"field": "b"}, "y": {"field": "d", "type": "nominal", "bandPosition": 0}}},
     {"data": {"values": [{"d": "MER", "a": "32139", "b": "EcMAD"}]}, "mark": {"type": "rule", "color": "black", "strokeWidth": 2, "xOffset": -127.7, "x2Offset": 50.7},
      "encoding": {"x": {"field": "a", "type": "nominal"}, "x2": {"field": "b"}, "y": {"field": "d", "type": "nominal", "bandPosition": 1}}}
    ]},
   {"width": 160.5, "height": 1, "data": {"values": []}, "mark": "point", "encoding": {}},
   {"bounds": "flush", "spacing": 0, "vconcat": [
     {"width": 1, "height": 83, "title": {"text": "c", "anchor": "start", "frame": "group", "dx": -107.5, "offset": -23, "fontSize": 32, "baseline": "alphabetic"}, "data": {"values": []}, "mark": "point", "encoding": {}},
     {"bounds": "flush", "spacing": 0, "hconcat": [
       {"width": 349.5, "height": 253,
        "title": {"text": "MH", "frame": "group", "anchor": "middle", "dx": 39, "offset": -28, "fontSize": 35, "baseline": "alphabetic"},
        "data": {"name": "growth"}, "transform": [{"filter": "datum.m == 'MH'"}],
        "mark": {"type": "line", "strokeWidth": 2.5, "interpolate": "monotone"},
        "encoding": {
         "x": {"field": "t", "type": "quantitative", "scale": {"domain": [0, 18], "nice": false, "zero": false},
               "axis": {"values": [0,2,4,6,8,10,12,14,16,18], "labelExpr": "indexof([0,2,6,10,14,18], datum.value) >= 0 ? toString(datum.value) : ''", "labelFontSize": 22, "labelPadding": 4, "tickSize": 6, "labelFlush": false, "labelOverlap": false,
                        "title": ["Time", "(h)"], "titleX": 390, "titleY": 4, "titleAlign": "center", "titleBaseline": "alphabetic", "titleFontSize": 27, "titleLineHeight": 31, "titleAngle": 0}},
         "y": {"field": "od", "type": "quantitative", "scale": {"domain": [0, 0.9], "nice": false},
               "axis": {"values": [0,0.1,0.2,0.3,0.4,0.5,0.6,0.7,0.8,0.9], "labelExpr": "toString(datum.value)", "labelFontSize": 22, "tickSize": 5, "labelPadding": 3,
                        "title": "OD600", "titleAngle": 0, "titleX": -4, "titleY": -10, "titleAlign": "left", "titleBaseline": "alphabetic", "titleFontSize": 30}},
         "color": {"field": "s", "type": "nominal", "scale": {"domain": ["32139","93G1","92B7","94G8","83B9","EcMAD"], "range": ["#4472C4","#ED7D31","#A5A5A5","#FFC000","#5B9BD5","#70AD47"]}, "legend": null}
        }},
       {"width": 106, "height": 1, "data": {"values": []}, "mark": "point", "encoding": {}},
       {"width": 344, "height": 250,
        "title": {"text": "LB", "frame": "group", "anchor": "middle", "dx": 22, "offset": -28, "fontSize": 35, "baseline": "alphabetic"},
        "data": {"name": "growth"}, "transform": [{"filter": "datum.m == 'LB'"}],
        "mark": {"type": "line", "strokeWidth": 2.5, "interpolate": "monotone"},
        "encoding": {
         "x": {"field": "t", "type": "quantitative", "scale": {"domain": [0, 18], "nice": false, "zero": false},
               "axis": {"values": [0,2,4,6,8,10,12,14,16,18], "labelExpr": "indexof([0,2,6,10,14,18], datum.value) >= 0 ? toString(datum.value) : ''", "labelFontSize": 22, "labelPadding": 4, "tickSize": 6, "labelFlush": false, "labelOverlap": false,
                        "title": ["Time", "(h)"], "titleX": 406, "titleY": 0, "titleAlign": "center", "titleBaseline": "alphabetic", "titleFontSize": 27, "titleLineHeight": 34, "titleAngle": 0}},
         "y": {"field": "od", "type": "quantitative", "scale": {"domain": [0, 0.7], "nice": false},
               "axis": {"values": [0,0.1,0.2,0.3,0.4,0.5,0.6,0.7], "labelExpr": "toString(datum.value)", "labelFontSize": 22, "tickSize": 5, "labelPadding": 3,
                        "title": "OD600", "titleAngle": 0, "titleX": -5, "titleY": -10, "titleAlign": "left", "titleBaseline": "alphabetic", "titleFontSize": 30}},
         "color": {"field": "s", "type": "nominal", "scale": {"domain": ["32139","93G1","92B7","94G8","83B9","EcMAD"], "range": ["#4472C4","#ED7D31","#A5A5A5","#FFC000","#5B9BD5","#70AD47"]}, "legend": null}
        }}
     ]},
     {"width": 1, "height": 385, "data": {"values": []}, "mark": "point", "encoding": {}},
     {"bounds": "flush", "spacing": 0, "hconcat": [
       {"width": 219.5, "height": 1, "data": {"values": []}, "mark": "point", "encoding": {}},
       {"width": 331.5, "height": 240,
        "title": {"text": "M9", "frame": "group", "anchor": "middle", "dx": 30, "offset": -58, "fontSize": 35, "baseline": "alphabetic"},
        "data": {"name": "growth"}, "transform": [{"filter": "datum.m == 'M9'"}],
        "mark": {"type": "line", "strokeWidth": 2.5, "interpolate": "monotone"},
        "encoding": {
         "x": {"field": "t", "type": "quantitative", "scale": {"domain": [0, 18], "nice": false, "zero": false},
               "axis": {"values": [0,1,2,3,4,5,6,7,8,9,10,11,12,13,14,15,16,17,18], "labelExpr": "datum.value % 2 == 0 ? toString(datum.value) : ''", "labelFontSize": 22, "labelPadding": 4, "tickSize": 6, "labelFlush": false, "labelOverlap": false,
                        "title": "Time (h)", "titleX": 339, "titleY": 9, "titleAlign": "left", "titleBaseline": "alphabetic", "titleFontSize": 26, "titleAngle": 0}},
         "y": {"field": "od", "type": "quantitative", "scale": {"domain": [0, 0.5], "nice": false},
               "axis": {"values": [0,0.1,0.2,0.3,0.4,0.5], "labelExpr": "toString(datum.value)", "labelFontSize": 22, "tickSize": 5, "labelPadding": 3,
                        "title": "OD600", "titleAngle": 0, "titleX": -11, "titleY": -19, "titleAlign": "left", "titleBaseline": "alphabetic", "titleFontSize": 30}},
         "color": {"field": "s", "type": "nominal", "scale": {"domain": ["32139","93G1","92B7","94G8","83B9","EcMAD"], "range": ["#4472C4","#ED7D31","#A5A5A5","#FFC000","#5B9BD5","#70AD47"]}, "legend": null}
        }}
     ]}
   ]}
 ]},
 {"width": 1, "height": 860, "data": {"values": []}, "mark": "point", "encoding": {}},
 {"bounds": "flush", "spacing": 0, "hconcat": [
   {"width": 100, "height": 1, "data": {"values": []}, "mark": "point", "encoding": {}},
   {"width": 477, "height": 369,
    "title": {"text": "b", "anchor": "start", "frame": "group", "dx": -84, "offset": -22, "fontSize": 38, "baseline": "alphabetic"},
    "data": {"name": "mic"}, "transform": [{"filter": "datum.g == 1"}],
    "resolve": {"axis": {"x": "independent"}},
    "layer": [
     {"mark": {"type": "bar"},
      "encoding": {
       "x": {"field": "drug", "type": "nominal", "scale": {"domain": ["Doripenem","Meropenem"], "paddingInner": 0, "paddingOuter": 0},
             "axis": {"orient": "bottom", "labels": false, "bandPosition": 0, "tickSize": 7, "domainWidth": 1.5, "title": null}},
       "xOffset": {"field": "s", "type": "nominal", "scale": {"domain": ["32139","93G1","92B7","94G8","83B9","EcMAD","_"], "paddingInner": 0.18, "paddingOuter": 0.59}},
       "y": {"field": "mic", "type": "quantitative", "scale": {"domain": [0, 0.1], "nice": false},
             "axis": {"values": [0, 0.05, 0.1], "labelExpr": "replace(toString(datum.value), '.', ',')", "labelFontSize": 22, "tickSize": 6, "labelPadding": 8, "domainWidth": 1.5,
                      "title": "MIC µg/ml", "titleFontSize": 30, "titlePadding": 12, "titleY": 172}},
       "color": {"field": "s", "type": "nominal", "scale": {"domain": ["32139","93G1","92B7","94G8","83B9","EcMAD"], "range": ["#4472C4","#ED7D31","#A5A5A5","#FFC000","#5B9BD5","#70AD47"]}, "legend": null}
      }},
     {"mark": {"type": "point", "opacity": 0},
      "encoding": {"x": {"field": "drug", "type": "nominal",
        "axis": {"orient": "top", "domain": false, "ticks": false, "tickSize": 0, "labelPadding": 10, "labelFontSize": 34, "labelAngle": 0, "labelLimit": 0, "labelOverlap": false, "title": null}}}}
    ]},
   {"width": 62, "height": 1, "data": {"values": []}, "mark": "point", "encoding": {}},
   {"width": 744, "height": 369,
    "data": {"name": "mic"}, "transform": [{"filter": "datum.g == 2"}],
    "resolve": {"axis": {"x": "independent"}},
    "layer": [
     {"mark": {"type": "bar"},
      "encoding": {
       "x": {"field": "drug", "type": "nominal", "scale": {"domain": ["Ertapenem","Imipenem","Ceftazidime Avibactam"], "paddingInner": 0, "paddingOuter": 0},
             "axis": {"orient": "bottom", "labels": false, "bandPosition": 0, "tickSize": 7, "domainWidth": 1.5, "title": null}},
       "xOffset": {"field": "s", "type": "nominal", "scale": {"domain": ["32139","93G1","92B7","94G8","83B9","EcMAD","_"], "paddingInner": 0.18, "paddingOuter": 0.59}},
       "y": {"field": "mic", "type": "quantitative", "scale": {"domain": [0, 0.8], "nice": false},
             "axis": {"values": [0, 0.2, 0.4, 0.6, 0.8], "labelExpr": "replace(toString(datum.value), '.', ',')", "labelFontSize": 22, "tickSize": 6, "labelPadding": 8, "domainWidth": 1.5, "title": null}},
       "color": {"field": "s", "type": "nominal", "scale": {"domain": ["32139","93G1","92B7","94G8","83B9","EcMAD"], "range": ["#4472C4","#ED7D31","#A5A5A5","#FFC000","#5B9BD5","#70AD47"]}, "legend": null}
      }},
     {"mark": {"type": "point", "opacity": 0},
      "encoding": {"x": {"field": "drug", "type": "nominal",
        "axis": {"orient": "top", "domain": false, "ticks": false, "tickSize": 0, "labelFontSize": 34, "labelAngle": 0, "labelLimit": 0, "labelOverlap": false, "labelLineHeight": 37, "title": null,
                 "labelPadding": {"condition": {"test": "datum.value == 'Ceftazidime Avibactam'", "value": 32}, "value": 10},
                 "labelExpr": "datum.value == 'Ceftazidime Avibactam' ? ['Ceftazidime', 'Avibactam'] : datum.label"}}}}
    ]},
   {"width": 56, "height": 1, "data": {"values": []}, "mark": "point", "encoding": {}},
   {"width": 507, "height": 369,
    "data": {"name": "mic"}, "transform": [{"filter": "datum.g == 3"}],
    "resolve": {"axis": {"x": "independent"}},
    "layer": [
     {"mark": {"type": "bar"},
      "encoding": {
       "x": {"field": "drug", "type": "nominal", "scale": {"domain": ["Ceftazidime","Aztreonam"], "paddingInner": 0, "paddingOuter": 0},
             "axis": {"orient": "bottom", "labels": false, "bandPosition": 0, "tickSize": 7, "domainWidth": 1.5, "title": null}},
       "xOffset": {"field": "s", "type": "nominal", "scale": {"domain": ["32139","93G1","92B7","94G8","83B9","EcMAD","_"], "paddingInner": 0.16, "paddingOuter": 0.26}},
       "y": {"field": "mic", "type": "quantitative", "scale": {"domain": [0, 256], "nice": false},
             "axis": {"values": [0, 64, 128, 192, 256], "labelFontSize": 22, "tickSize": 6, "labelPadding": 8, "domainWidth": 1.5, "title": null,
                      "labelOffset": {"condition": {"test": "datum.value == 0", "value": 22}, "value": 0}}},
       "color": {"field": "s", "type": "nominal", "scale": {"domain": ["32139","93G1","92B7","94G8","83B9","EcMAD"], "range": ["#4472C4","#ED7D31","#A5A5A5","#FFC000","#5B9BD5","#70AD47"]}, "legend": null}
      }},
     {"mark": {"type": "point", "opacity": 0},
      "encoding": {"x": {"field": "drug", "type": "nominal",
        "axis": {"orient": "top", "domain": false, "ticks": false, "tickSize": 0, "labelPadding": 10, "labelFontSize": 34, "labelAngle": 0, "labelLimit": 0, "labelOverlap": false, "title": null}}}}
    ]}
 ]},
 {"width": 1, "height": 400, "data": {"values": []}, "mark": "point", "encoding": {}},
 {"bounds": "flush", "spacing": 0, "hconcat": [
   {"width": 483, "height": 1, "data": {"values": []}, "mark": "point", "encoding": {}},
   {"width": 815.5, "height": 100,
    "data": {"name": "strainList"},
    "layer": [
     {"mark": {"type": "point", "shape": "square", "size": 1024, "filled": true, "opacity": 1, "yOffset": -14},
      "encoding": {
       "x": {"field": "s", "type": "nominal", "scale": {"type": "point", "domain": ["32139","93G1","92B7","94G8","83B9","EcMAD"], "padding": 0}, "axis": null},
       "color": {"field": "s", "type": "nominal", "scale": {"domain": ["32139","93G1","92B7","94G8","83B9","EcMAD"], "range": ["#4472C4","#ED7D31","#A5A5A5","#FFC000","#5B9BD5","#70AD47"]}, "legend": null}
      }},
     {"transform": [{"filter": "datum.s != 'EcMAD'"}],
      "mark": {"type": "text", "align": "left", "baseline": "middle", "dx": 23, "dy": -14, "fontSize": 30, "color": "black"},
      "encoding": {"x": {"field": "s", "type": "nominal"}, "text": {"field": "s"}}},
     {"data": {"values": [{"s": "EcMAD", "t": "Ec"}]},
      "mark": {"type": "text", "align": "left", "baseline": "middle", "dx": 23, "dy": -14, "fontSize": 30, "fontStyle": "italic", "color": "black"},
      "encoding": {"x": {"field": "s", "type": "nominal"}, "text": {"field": "t"}}},
     {"data": {"values": [{"s": "EcMAD", "t": "MAD"}]},
      "mark": {"type": "text", "align": "left", "baseline": "middle", "dx": 58, "dy": -14, "fontSize": 30, "color": "black"},
      "encoding": {"x": {"field": "s", "type": "nominal"}, "text": {"field": "t"}}},
     {"data": {"values": [{"s": "32139", "t": "CTX-M15"}, {"s": "94G8", "t": "YRIK"}]},
      "mark": {"type": "text", "align": "center", "baseline": "alphabetic", "dx": 38, "dy": 40, "fontSize": 30, "color": "black"},
      "encoding": {"x": {"field": "s", "type": "nominal"}, "text": {"field": "t"}}},
     {"data": {"values": [{"a": "83B9", "b": "EcMAD"}]},
      "mark": {"type": "rule", "strokeWidth": 3, "color": "black", "xOffset": -17, "x2Offset": 129, "yOffset": 22},
      "encoding": {"x": {"field": "a", "type": "nominal"}, "x2": {"field": "b"}}},
     {"data": {"values": [{"s": "83B9"}]},
      "mark": {"type": "tick", "orient": "vertical", "size": 12, "thickness": 3, "color": "black", "xOffset": -17, "yOffset": 16},
      "encoding": {"x": {"field": "s", "type": "nominal"}}},
     {"data": {"values": [{"s": "EcMAD"}]},
      "mark": {"type": "tick", "orient": "vertical", "size": 12, "thickness": 3, "color": "black", "xOffset": 129, "yOffset": 16},
      "encoding": {"x": {"field": "s", "type": "nominal"}}},
     {"data": {"values": [{"a": "93G1", "b": "EcMAD"}]},
      "mark": {"type": "rule", "strokeWidth": 3, "color": "black", "xOffset": -17, "x2Offset": 130, "yOffset": 61},
      "encoding": {"x": {"field": "a", "type": "nominal"}, "x2": {"field": "b"}}},
     {"data": {"values": [{"s": "93G1"}]},
      "mark": {"type": "tick", "orient": "vertical", "size": 10, "thickness": 3, "color": "black", "xOffset": -17, "yOffset": 56},
      "encoding": {"x": {"field": "s", "type": "nominal"}}},
     {"data": {"values": [{"s": "EcMAD"}]},
      "mark": {"type": "tick", "orient": "vertical", "size": 10, "thickness": 3, "color": "black", "xOffset": 130, "yOffset": 56},
      "encoding": {"x": {"field": "s", "type": "nominal"}}},
     {"data": {"values": [{"s": "EcMAD", "t": "YRIN"}]},
      "mark": {"type": "text", "align": "center", "baseline": "alphabetic", "dx": -11, "dy": 53, "fontSize": 30, "color": "black"},
      "encoding": {"x": {"field": "s", "type": "nominal"}, "text": {"field": "t"}}},
     {"data": {"values": [{"s": "94G8", "t": "Oxa-181 -  CTX-M-15"}]},
      "mark": {"type": "text", "align": "center", "baseline": "alphabetic", "dx": 72, "dy": 89, "fontSize": 30, "color": "black"},
      "encoding": {"x": {"field": "s", "type": "nominal"}, "text": {"field": "t"}}}
    ]}
 ]}
]
}
